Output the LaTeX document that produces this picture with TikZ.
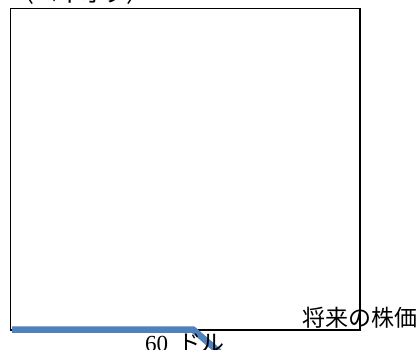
\documentclass[tikz,border=0pt]{standalone}
\usepackage{fontspec}
\setmainfont{Liberation Serif}
\newfontfamily\jp{Noto Sans CJK JP}
\definecolor{lineblue}{HTML}{4F81BD}
\tikzset{
  frame/.style={draw=black, line width=1.7pt},
  payoff/.style={draw=lineblue, line width=6.5pt},
  lbl/.style={inner sep=0pt, font=\fontsize{23}{27}\selectfont},
}
\begin{document}
\begin{tikzpicture}[x=1pt,y=-1pt]
\useasboundingbox (0,0) rectangle (417,349);
\clip (0,0) rectangle (417,349);
\fill[white] (0,0) rectangle (417,349);
\node[frame, minimum width=349.5pt, minimum height=321.5pt, inner sep=0pt, anchor=north west] (box) at (9.5,7.5) {};
\coordinate (o) at (12,329.5);
\coordinate (k) at (193,329.5);
\coordinate (e) at (240,370);
\draw[payoff] (o) -- (k) -- (e);
\node[lbl, anchor=base west] (ylab) at (11,2.5) {\jp 〈ペイオフ〉};
\node[lbl, anchor=base west] (xlab) at (302,326) {\jp 将来の株価};
\node[lbl, anchor=base west] (strike) at (145,351) {60\hspace{0.45em}{\jp ドル}};
\end{tikzpicture}
\end{document}
